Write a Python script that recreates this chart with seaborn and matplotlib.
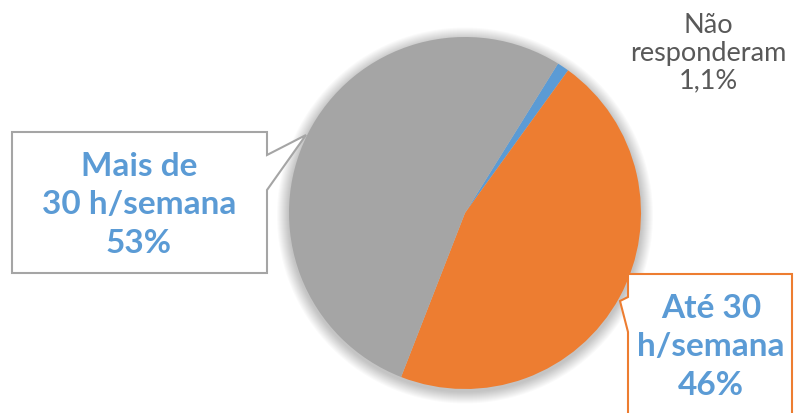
import matplotlib
matplotlib.use("Agg")
import matplotlib.pyplot as plt
from matplotlib.patches import Polygon, Circle
import seaborn as sns

# Survey answers: weekly hours
categories = ["Não responderam", "Até 30 h/semana", "Mais de 30 h/semana"]
shares = [1.1, 46, 53]
label_texts = ["Não\nresponderam\n1,1%", "Até 30\nh/semana\n46%", "Mais de\n30 h/semana\n53%"]

sns.set_theme(style="white")
plt.rcParams["font.family"] = ["Lato", "DejaVu Sans"]

colors = ["#5B9BD5", "#ED7D31", "#A5A5A5"]
label_blue = "#5B9BD5"
text_gray = "#595959"

W, H = 794, 414
CX, CY, R = 465, 214, 176  # pie centre and radius in pixels (from top-left)

fig = plt.figure(figsize=(W / 100, H / 100), dpi=100)
ax = fig.add_axes([0, 0, 1, 1])


def px(x, y):
    """Pixel position (origin top-left) to data coordinates."""
    return ((x - CX) / R, (CY - y) / R)


# soft outer shadow under the pie
for k in range(12):
    ax.add_patch(Circle((0, -2.5 / R), 1 + (k + 1) / R, color="black",
                        alpha=0.018, lw=0, zorder=0))

ax.pie(shares, colors=colors, startangle=58.1, counterclock=False,
       radius=1, center=(0, 0), wedgeprops=dict(linewidth=0),
       frame=True)
ax.set_xlim(-CX / R, (W - CX) / R)
ax.set_ylim(-(H - CY) / R, CY / R)
ax.set_aspect("auto")
ax.set_axis_off()

# callout for "Mais de 30 h/semana"
gray_box = [px(12, 133), px(267, 133), px(267, 156), px(306, 136),
            px(267, 191), px(267, 274), px(12, 274)]
ax.add_patch(Polygon(gray_box, closed=True, facecolor="white",
                     edgecolor="#A5A5A5", lw=1.5, zorder=5))
ax.text(*px(139, 205), label_texts[2], ha="center", va="center",
        color=label_blue, fontsize=24, fontweight="bold",
        linespacing=1.38, zorder=6)

# callout for "Até 30 h/semana"
orange_box = [px(628, 275), px(792, 275), px(792, 430), px(628, 430),
              px(628, 333), px(620, 302), px(628, 298)]
ax.add_patch(Polygon(orange_box, closed=True, facecolor="white",
                     edgecolor="#ED7D31", lw=1.5, zorder=5))
ax.text(*px(711, 347), label_texts[1], ha="center", va="center",
        color=label_blue, fontsize=24, fontweight="bold",
        linespacing=1.38, zorder=6)

# label for "Não responderam"
ax.text(*px(708, 53), label_texts[0], ha="center", va="center",
        color=text_gray, fontsize=19.5, linespacing=1.12, zorder=6)

fig.savefig("out.png", dpi=100)
